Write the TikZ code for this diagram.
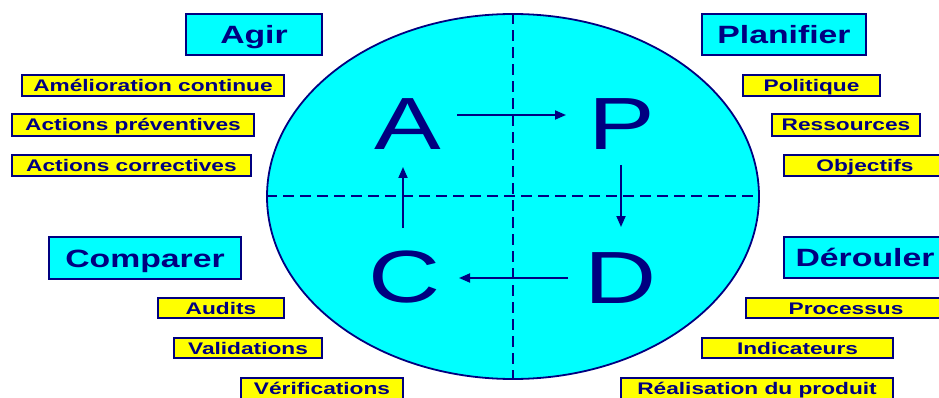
\documentclass[tikz,border=0pt]{standalone}
\usepackage{fontspec}
\setmainfont{Liberation Sans}[FakeStretch=1.35]
\usetikzlibrary{shapes.geometric,arrows.meta,calc}
\definecolor{navy}{RGB}{0,0,128}
\definecolor{cyanfill}{RGB}{0,255,255}
\definecolor{yellowfill}{RGB}{255,255,0}
\begin{document}
\begin{tikzpicture}[x=1pt,y=-1pt,
  hdr/.style={draw=navy, line width=2.2pt, fill=cyanfill, text=navy,
    font=\fontsize{25}{25}\selectfont\bfseries, inner sep=0pt,
    text height=18pt, text depth=0pt, minimum height=41pt},
  item/.style={draw=navy, line width=2pt, fill=yellowfill, text=navy,
    font=\fontsize{16.8}{17}\selectfont\bfseries, inner sep=0pt,
    text height=12pt, text depth=0pt, minimum height=21pt},
  letter/.style={text=navy, font=\fontsize{74}{74}\selectfont,
    inner sep=0pt, text height=53pt, text depth=0pt},
  arr/.style={draw=navy, line width=1.8pt, -{Triangle[length=11pt,width=9pt]}},
  split/.style={draw=navy, line width=2pt, dash pattern=on 11pt off 6pt}]
\useasboundingbox (0,0) rectangle (939,398);
\clip (0,0) rectangle (939,398);

% central ellipse and its quadrants
\node[ellipse, draw=navy, line width=1.8pt, fill=cyanfill,
  minimum width=492pt, minimum height=365pt, inner sep=0pt] (E) at (513,196.5) {};
\draw[split] (E.north) -- (E.south);
\draw[split] (E.west) -- (E.east);

% PDCA letters
\node[letter] (A) at (408,123.5) {A};
\node[letter] (P) at (622,123.5) {P};
\node[letter] (C) at (405,275.5) {C};
\node[letter] (D) at (621,276.5) {D};

% cycle arrows
\draw[arr] ($(A.center)+(49,-8.5)$) -- ($(P.center)+(-56,-8.5)$);
\draw[arr] ($(P.center)+(-1,41.5)$) -- ($(D.center)+(0,-49.5)$);
\draw[arr] ($(D.center)+(-53,1.5)$) -- ($(C.center)+(54,2.5)$);
\draw[arr] ($(C.center)+(-2,-47.5)$) -- ($(A.center)+(-5,43.5)$);

% phase headers
\node[hdr, minimum width=136pt] (agir) at (254,34.5) {Agir};
\node[hdr, minimum width=164pt] (plan) at (784,34.5) {Planifier};
\node[hdr, minimum width=192pt, minimum height=42pt] (comp) at (145,258) {Comparer};
\node[hdr, minimum width=162pt] (derl) at (865,257.5) {Dérouler};

% Agir items
\node[item, minimum width=262pt] (ame) at (153,85.5) {Amélioration continue};
\node[item, minimum width=242pt, minimum height=22pt] (apr) at (133,125) {Actions préventives};
\node[item, minimum width=239pt] (aco) at (131.5,165.5) {Actions correctives};

% Planifier items
\node[item, minimum width=137pt] (pol) at (811.5,85.5) {Politique};
\node[item, minimum width=148pt, minimum height=22pt] (res) at (846,125) {Ressources};
\node[item, minimum width=162pt] (obj) at (865,165.5) {Objectifs};

% Comparer items
\node[item, minimum width=126pt, minimum height=20pt] (aud) at (221,308) {Audits};
\node[item, minimum width=148pt, minimum height=20pt] (val) at (248,348) {Validations};
\node[item, minimum width=162pt] (ver) at (322,388.5) {Vérifications};

% Dérouler items
\node[item, minimum width=200pt, minimum height=20pt] (pro) at (846,308) {Processus};
\node[item, minimum width=191pt, minimum height=20pt] (ind) at (797.5,348) {Indicateurs};
\node[item, minimum width=272pt] (rea) at (757,388.5) {Réalisation du produit};
\end{tikzpicture}
\end{document}
